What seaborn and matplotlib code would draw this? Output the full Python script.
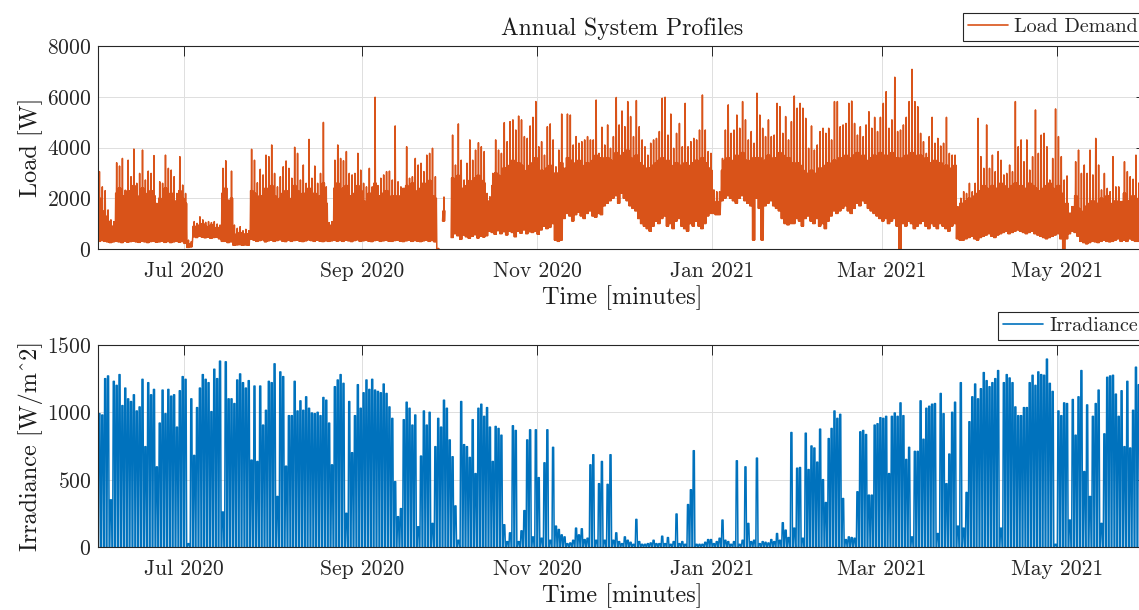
import numpy as np
import pandas as pd
import matplotlib
matplotlib.use("Agg")
import matplotlib.pyplot as plt
import matplotlib.dates as mdates
from matplotlib.lines import Line2D
import seaborn as sns

nan = np.nan
START = "2020-06-01"
N_DAYS = 365

# ---------------- data (one value per day) ----------------
# Daily peak load [W]
load_peak = [
    # Jun 1 - Sep 27 2020 (days 0-118)
    3050, 2450, 2300, 1540, 1150, 1080, 3400, 3270, 3570, 2320,
    3500, 2850, 3940, 2590, 2980, 3900, 2720, 3070, 2980, 3680,
    1800, 2650, 2590, 3700, 3180, 3110, 2850, 2190, 3640, 2520,
    2190, 350, 290, 1080, 1010, 1270, 1150, 1050, 1080, 1040,
    1080, 985, 945, 3180, 3480, 1930, 3070, 945, 815, 880,
    720, 775, 720, 3930, 3500, 2610, 3140, 2920, 3700, 3640,
    4100, 2980, 2450, 2850, 3240, 3470, 3180, 2790, 4010, 3770,
    2720, 3310, 2590, 4320, 2790, 3270, 2590, 2980, 4990, 2450,
    1040, 1080, 3500, 4100, 3570, 3480, 3840, 2980, 2920, 2980,
    3770, 3110, 2590, 2450, 3180, 2450, 5980, 2500, 2790, 2920,
    3050, 3070, 2720, 4850, 2650, 2450, 2390, 4030, 2790, 2850,
    3570, 3310, 3380, 3050, 3700, 3770, 3970, 2850, 25,
    # days 119-122 (data gap with a short piece)
    nan, 2050, nan, nan,
    # days 123-241
    4490, 3310, 4930, 3500, 2720, 3380, 4300, 3500, 3900, 4190,
    4030, 3840, 2190, 2060, 2980, 4300, 3900, 3770, 4980, 4230,
    5020, 5090, 4690, 5240, 5090, 4430, 4360, 4850, 5190, 5810,
    4030, 4230, 3700, 4820, 4930, 4300, 3240, 3900, 5320, 3180,
    5320, 5280, 4100, 4430, 4170, 4230, 4300, 4430, 4300, 4300,
    5870, 3770, 4800, 4100, 4890, 3970, 4430, 5970, 4890, 5440,
    4820, 5810, 5220, 4430, 5850, 4820, 4300, 4030, 3700, 4170,
    4300, 4360, 4630, 5940, 5980, 4490, 5320, 3970, 4560, 4950,
    4030, 5740, 4030, 4230, 4360, 4300, 4690, 6070, 4690, 3840,
    3770, 2330, 2260, 2260, 3570, 4690, 5680, 4560, 4690, 5280,
    4760, 5810, 5090, 4300, 4630, 4170, 6140, 5280, 4760, 4430,
    5090, 4430, 4490, 5740, 5610, 4560, 5220, 4300, 5020,
    # days 242-364
    6030, 5550, 5740, 5550, 5150, 3970, 4850, 3900, 4100, 4630,
    4760, 4560, 4760, 4300, 5810, 5810, 4820, 4890, 4950, 5740,
    5830, 4950, 4490, 4820, 4430, 4890, 5410, 4760, 5190, 4630,
    5190, 5740, 6200, 4760, 5090, 6770, 4630, 4690, 4890, 5190,
    5810, 7080, 5810, 5610, 4560, 4230, 3770, 4430, 5190, 4170,
    4360, 4060, 4170, 5190, 3770, 3700, 3700, 1670, 2000, 2260,
    2190, 2590, 2260, 2590, 5150, 3640, 3180, 4890, 3180, 3700,
    3050, 3840, 3500, 2920, 2980, 3310, 3050, 5810, 4030, 4300,
    3440, 4300, 3110, 3640, 5480, 3770, 4490, 4560, 4030, 2720,
    3570, 5520, 4430, 3640, 2720, 2880, 1410, 1670, 3440, 3900,
    2980, 3310, 2980, 3900, 2920, 4360, 3310, 2330, 2980, 2390,
    2260, 3640, 2450, 2450, 1870, 3440, 3050, 2850, 2750, 3700,
    2600, 3100, 3700,
]

# Upper edge of the dense daily band [W]
load_mid = [
    2000, 1500, 1300, 1100, 900, 900,
    2200, 2400, 2100, 1800, 2300, 2000, 2500, 2100, 1900, 2400,
    2000, 2200, 2300, 2100, 1500, 2000, 1800, 2400, 2100, 2200,
    1900, 1700, 2300, 2000, 1800,
    200, 200,
    900, 850, 950, 1000, 900, 850, 950, 800, 850, 750,
    2200, 2400, 1500, 2000,
    550, 600, 650, 550, 600, 600,
    2300, 2200, 1900, 2100, 2000, 2400, 2300, 2500, 2100, 1900,
    2000, 2200, 2300, 2000, 1900, 2500, 2300, 2000, 2200, 1900,
    2400, 2000, 2200, 1900, 2100, 2600, 1800,
    900, 950,
    2400, 2600, 2300, 2400, 2500, 2100, 2000, 2200, 2500, 2300,
    1900, 1800, 2200, 2000, 2600, 1900, 2100, 2200, 2300, 2000,
    2100, 1900, 2100, 2000, 2400, 2500, 2300, 2600, 2200, 2300,
    2400, 2600, 2500, 2700, 2100, 2000,
    0,
    nan, 1500, nan, nan,
    2800, 2500, 2900, 2400, 2200, 2500, 2700, 2600, 2800, 2900, 2700, 2600, 1900,
    1800, 2500, 3000, 2900, 2800, 3200, 3100, 3300, 3500, 3200, 3400, 3300, 3000, 3100, 3300,
    3400, 3600, 3000, 3100, 2900, 3200, 3300,
    3000, 2800, 3000, 3400,
    3200, 3600, 3500, 3300, 3400, 3500, 3300, 3200, 3400, 3300, 3500, 3700, 3300, 3600,
    3400, 3600, 3500, 3400, 3800, 3600, 3700, 3800, 3900, 3600, 3500, 3700, 3400, 3300, 3200,
    3000, 3200, 3300, 3400, 3500, 3600, 3400, 3500, 3300, 3100, 3400, 3300, 3200, 3400,
    3300, 3200, 3400, 3500, 3300, 3600, 3400, 3200, 3100,
    1850, 1850, 1850,
    3100, 3500, 3600, 3400, 3500, 3700, 3600, 3800, 3500, 3400, 3500, 3600, 3400,
    3600, 3300, 3500, 3700, 3500, 3600, 3400, 3800, 3700, 3500, 3600, 3400,
    3200, 3400, 3300, 3100, 3000, 2900, 3100, 2800, 3000, 3200, 3100, 3300, 3400,
    3300, 3500, 3400, 3600,
    3500, 3700, 3600, 3500, 3700, 3800, 3600, 3700, 3500, 3400, 3600, 3700, 3500,
    3800, 3700, 3600, 3700, 3800, 3500, 3600, 3200,
    3600, 3700, 3500, 3800, 3700, 3600, 3700, 3500, 3600, 3400, 3300, 3500, 3300,
    3400, 3200, 3300, 3100, 3200, 3300, 1500, 1800,
    1800, 1900, 2000, 1900, 2100, 2200, 2300, 2500, 2400, 2300, 2500, 2400, 2300,
    2600, 2500, 2400, 2300, 2500, 2600, 2400, 2500, 2300, 2400, 2600, 2500, 2400,
    2300, 2200, 2400, 2500, 2600, 2400, 2300, 2500, 2200,
    1500, 1800, 2000, 2200, 2100, 1600,
    1400, 1500, 1700, 1800, 1900, 1700, 1800, 2000, 1900, 2100,
    1800, 1700, 1900, 1800, 2000, 2200, 1900, 1800, 2100, 2000,
    1900, 2000, 2100,
]

# Daily minimum load [W]
load_base = [
    300, 330, 300, 280, 250, 280,
    300, 280, 250, 300, 270, 290, 310, 280, 260, 300,
    280, 250, 290, 300, 270, 280, 300, 260, 290, 250,
    280, 300, 270, 290, 220,
    60, 80,
    480, 450, 500, 470, 440, 460, 420, 450, 470, 400,
    300, 300, 250, 280,
    150, 160, 170, 150, 160, 150,
    380, 350, 300, 330, 360, 280, 320, 350, 300, 330,
    360, 310, 290, 340, 300, 330, 350, 310, 290, 320,
    360, 330, 300, 350, 310, 290, 320,
    300, 320,
    340, 310, 330, 300, 350, 320, 290, 330, 360, 300,
    320, 340, 310, 290, 330, 350, 300, 320, 340, 310,
    300, 330, 350, 310, 290, 320, 340, 300, 330, 310,
    290, 320, 350, 300, 330, 280,
    0,
    nan, 1100, nan, nan,
    450, 600, 520, 380, 550, 480, 420, 500, 560, 430, 500, 470, 520,
    700, 650, 580, 720, 600, 680, 550, 700, 650, 480, 700, 620, 750, 600, 680,
    650, 700, 580, 750, 900, 800, 850,
    1000, 350, 300, 350,
    1200, 1400, 1300, 1100, 1350, 1450, 1300, 1200, 1400, 1500, 1300, 1250, 1400, 1350,
    1700, 1800, 1900, 2000, 2100, 1800, 2200, 2000, 1900, 1700, 1600, 1500, 1200, 1000, 900,
    800, 700, 900, 1100, 1000, 1200, 1300, 900, 1000, 800, 1100, 1200, 900, 800,
    700, 1000, 900, 1100, 900, 800, 1000, 1300, 1400,
    1400, 1350, 1350,
    1900, 2000, 2100, 2000, 1900, 1800, 2000, 2100, 1900, 1800, 1700, 350, 2000,
    1600, 350, 1700, 1800, 1900, 1700, 1600, 1500, 1200, 1000, 950, 1000,
    1000, 1200, 1100, 900, 1200, 1300, 1100, 1000, 1200, 900, 1000, 800, 1100,
    1300, 1500, 1400, 1500,
    1600, 1700, 1500, 1400, 1600, 1800, 1700, 1900, 1800, 1600, 1500, 1400, 1300,
    1200, 1100, 1200, 1000, 1100, 1200, 900, 0,
    1000, 900, 1100, 1000, 800, 900, 1000, 1100, 900, 800, 1000, 900, 800,
    1000, 900, 800, 700, 900, 1000, 400, 350,
    350, 400, 450, 500, 400, 350, 450, 500, 550, 600, 500, 450, 550,
    600, 650, 700, 600, 650, 700, 750, 700, 650, 600, 650, 700, 600,
    550, 500, 450, 400, 450, 500, 550, 600, 400,
    0, 400, 600, 700, 650, 500,
    300, 250, 200, 250, 300, 280, 250, 300, 350, 300,
    280, 300, 350, 400, 300, 350, 300, 400, 350, 300,
    300, 350, 300,
]

# Daily peak irradiance [W/m^2]
irr_peak = [
    990, 980, 1250, 1270, 350, 1230, 1200, 1280, 1050, 1180,
    1100, 1080, 1130, 1010, 1040, 1245, 745, 1220, 1130, 1170,
    595, 920, 1165, 990, 1170, 1120, 1130, 890, 1160, 1265,
    1245, 25, 1100, 680, 1035, 1180, 1280, 1245, 1220, 1005,
    1320, 1250, 1380, 260, 1375, 1100, 1100, 1065, 1240, 1285,
    1220, 1180, 1235, 645, 1195, 635, 1195, 905, 1015, 1230,
    1220, 1360, 375, 1300, 1265, 600, 975, 975, 1230, 1010,
    1085, 1015, 1115, 1030, 995, 990, 1000, 975, 1110, 1090,
    920, 610, 1190, 1240, 1280, 1215, 250, 1080, 700, 975,
    1205, 1030, 1145, 1240, 1170, 1245, 1165, 1155, 1145, 1210,
    1140, 1040, 955, 485, 225, 285, 945, 1075, 1030, 905,
    980, 150, 675, 1010, 905, 1000, 175, 745, 955, 890,
    1090,
    1030, 795, 670, 305, 50, 1080, 760, 745, 665, 945,
    545, 1030, 1060, 970, 1035, 890, 635, 895, 880, 830,
    165, 40, 105, 900, 865, 40, 120, 270, 795, 870,
    75, 870, 515, 65, 625, 870, 50, 740, 155, 130,
    90, 75, 25, 30, 50, 140, 90, 135, 55, 65,
    610, 685, 50, 470, 635, 50, 465, 685, 50, 105,
    40, 25, 75, 50, 35, 20, 205, 40, 20, 20,
    25, 30, 50, 25, 25, 80, 25, 70, 20, 40,
    245, 25, 40, 20, 315, 425, 715, 20, 20, 20,
    35, 55, 55, 25, 40, 65, 200, 50, 40, 20,
    40, 640, 20, 50, 595, 175, 40, 50, 660, 25,
    40, 35, 30, 55, 40, 100, 50, 180, 125, 70,
    850, 140,
    585, 590, 65, 845, 575, 750, 735, 630, 875, 500,
    330, 805, 880, 1010, 955, 985, 360, 55, 75, 70,
    65, 410, 855, 865, 835, 385, 385, 905, 915, 960,
    955, 970, 545, 970, 995, 970, 1070, 975, 650, 740,
    75, 710, 710, 1085, 800, 1030, 1045, 1060, 1065, 100,
    1140, 990, 470, 690, 1000, 1075, 155, 1220, 140, 405,
    930, 1115, 1210, 1100, 1175, 1295, 1235, 1190, 1220, 1250,
    1310, 140, 1220, 1280, 1255, 1220, 1040, 975, 975, 1035,
    1035, 1220, 1275, 1200, 1300, 1280, 1275, 1395, 1215, 1155,
    20, 1010, 975, 1070, 1065, 200, 1095, 830, 1115, 1310,
    560, 1055, 375, 970, 1065, 1165, 175, 840, 1260, 1270,
    1275, 1135, 970, 1160, 745, 1230, 735, 1015, 1335, 1205,
    1115, 1015,
]

series_labels = ["Load Demand", "Irradiance"]
month_ticks = [1, 3, 5, 7, 9, 11]
load_yticks = [0, 2000, 4000, 6000, 8000]
irr_yticks = [0, 500, 1000, 1500]

# ---------------- build long-form tables ----------------
days = pd.date_range(START, periods=N_DAYS, freq="D")

n_load = min(len(load_peak), len(load_mid), len(load_base), N_DAYS)
rows = []
seg = 0
prev = False
load_offsets = [0.0, 0.17, 0.33, 0.5, 0.67, 0.83]
for d in range(n_load):
    p, m, b = load_peak[d], load_mid[d], load_base[d]
    if np.isnan(p):
        if prev:
            seg += 1
        prev = False
        continue
    m = min(m, p)
    for off, v in zip(load_offsets, (b, m, b, p, b, m)):
        rows.append((days[d] + pd.Timedelta(days=off), v, seg))
    prev = True
load_df = pd.DataFrame(rows, columns=["time", "value", "seg"])

irr_rows = []
irr_offsets = [0.12, 0.32, 0.68, 0.88]
for d in range(min(len(irr_peak), N_DAYS)):
    p = irr_peak[d]
    for off, v in zip(irr_offsets, (0, p, p, 0)):
        irr_rows.append((days[d] + pd.Timedelta(days=off), v))
irr_df = pd.DataFrame(irr_rows, columns=["time", "value"])
irr_df["seg"] = 0

# ---------------- styling ----------------
sns.set_theme(style="white")
plt.rcParams["font.family"] = ["cmr10", "DejaVu Serif"]
plt.rcParams["axes.formatter.use_mathtext"] = True
plt.rcParams["axes.unicode_minus"] = False

C_LOAD = "#D95319"
C_IRR = "#0072BD"
DARK = "#262626"

W, H = 1139, 610
fig = plt.figure(figsize=(W / 100, H / 100), dpi=100)
left = 98 / W
width = (1146 - 98) / W
ax1 = fig.add_axes([left, 1 - 249 / H, width, 203 / H])
ax2 = fig.add_axes([left, 1 - 547 / H, width, 202 / H])

sns.lineplot(data=load_df, x="time", y="value", units="seg", estimator=None,
             color=C_LOAD, lw=1.1, ax=ax1, legend=False)
sns.lineplot(data=irr_df, x="time", y="value", units="seg", estimator=None,
             color=C_IRR, lw=1.1, ax=ax2, legend=False)

x0 = pd.Timestamp(START)
x1 = x0 + pd.Timedelta(days=N_DAYS)
for ax, yt, ylab in ((ax1, load_yticks, "Load [W]"), (ax2, irr_yticks, "Irradiance [W/m^2]")):
    ax.set_xlim(x0, x1)
    ax.set_ylim(yt[0], yt[-1])
    ax.set_yticks(yt)
    ax.xaxis.set_major_locator(mdates.MonthLocator(bymonth=month_ticks))
    ax.xaxis.set_major_formatter(mdates.DateFormatter("%b %Y"))
    ax.grid(True, color="#dfdfdf", lw=0.7)
    ax.set_axisbelow(True)
    for s in ax.spines.values():
        s.set_visible(True)
        s.set_color(DARK)
        s.set_linewidth(0.8)
    ax.tick_params(direction="in", length=7.2, width=0.7, color=DARK,
                   top=True, right=True, labelsize=15.5, labelcolor=DARK)
    ax.tick_params(axis="x", pad=9)
    ax.tick_params(axis="y", pad=5)
    ax.set_xlabel("Time [minutes]", fontsize=17.5, color="#1a1a1a", labelpad=3)
    ax.set_ylabel(ylab, fontsize=17.5, color="#1a1a1a", labelpad=3)

ax1.set_title("Annual System Profiles", fontsize=17, color="#1a1a1a", pad=8)

for ax, col, lab, ybot in ((ax1, C_LOAD, series_labels[0], 41), (ax2, C_IRR, series_labels[1], 340)):
    h = Line2D([], [], color=col, lw=1.2)
    leg = ax.legend([h], [lab], loc="lower right",
                    bbox_to_anchor=(1143 / W, 1 - ybot / H), bbox_transform=fig.transFigure,
                    fontsize=14.5, frameon=True, fancybox=False, framealpha=1,
                    edgecolor=DARK, borderpad=0.25, handlelength=2.0, handletextpad=0.3,
                    borderaxespad=0)
    leg.get_frame().set_linewidth(0.8)

fig.savefig("out.png", dpi=100)
